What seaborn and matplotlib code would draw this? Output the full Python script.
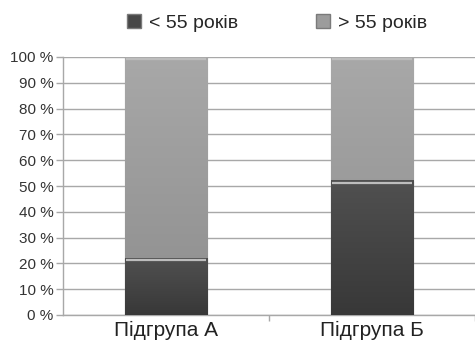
import matplotlib
matplotlib.use("Agg")
import matplotlib.pyplot as plt
import numpy as np
import pandas as pd
import seaborn as sns
from matplotlib.colors import LinearSegmentedColormap
from matplotlib.patches import Patch

groups = ["Підгрупа А", "Підгрупа Б"]
under_55 = [22, 52]
over_55 = [78, 48]
series_labels = ["< 55 років", "> 55 років"]
ytick_values = [0, 10, 20, 30, 40, 50, 60, 70, 80, 90, 100]

sns.set_theme(style="white")
plt.rcParams["font.family"] = ["Liberation Sans", "DejaVu Sans"]

df = pd.DataFrame({"group": groups, "under": under_55, "over": over_55})
df["total"] = df["under"] + df["over"]

fig = plt.figure(figsize=(4.75, 3.49), dpi=100)
ax = fig.add_axes([63 / 475, 1 - 315 / 349, 1 - 63 / 475, (315 - 57) / 349])

dark = "#474747"
light = "#9c9c9c"

sns.barplot(data=df, x="group", y="total", color=light, width=0.4,
            saturation=1, ax=ax, zorder=3)
sns.barplot(data=df, x="group", y="under", color=dark, width=0.4,
            saturation=1, ax=ax, zorder=3)

# soft vertical shading on each segment, plus a thin highlight on its top edge
cmaps = {
    light: LinearSegmentedColormap.from_list("lt", ["#8e8e8e", "#a8a8a8"]),
    dark: LinearSegmentedColormap.from_list("dk", ["#383838", "#505050"]),
}
grad = np.linspace(0, 1, 64).reshape(-1, 1)
for i, p in enumerate(ax.patches):
    x0, y0 = p.get_x(), p.get_y()
    w, h = p.get_width(), p.get_height()
    key = light if i < len(groups) else dark
    ax.imshow(grad, extent=[x0, x0 + w, y0, y0 + h], origin="lower",
              cmap=cmaps[key], aspect="auto", zorder=3.5)
    p.set_edgecolor("#7a7a7a")
    p.set_linewidth(0.8)
    ax.plot([x0 + w * 0.02, x0 + w * 0.98], [y0 + h - 0.7, y0 + h - 0.7],
            color="#bdbdbd", lw=1.6, zorder=4, solid_capstyle="butt")

ax.set_xlim(-0.5, 1.5)
ax.set_ylim(0, 100)
ax.set_yticks(ytick_values)
ax.set_yticklabels([f"{v} %" for v in ytick_values])
ax.set_xticks([0.5, 1.5], minor=True)
ax.set_xlabel("")
ax.set_ylabel("")
ax.yaxis.grid(True, color="#a8a8a8", lw=1.0, zorder=0)
ax.set_axisbelow(True)
ax.tick_params(axis="y", which="major", length=5, width=1.0, color="#a8a8a8",
               labelsize=11, labelcolor="#333333", pad=2, left=True)
ax.tick_params(axis="x", which="major", length=0, labelsize=15,
               labelcolor="#222222", pad=4)
ax.tick_params(axis="x", which="minor", length=4, width=1.0, color="#a8a8a8",
               bottom=True, direction="out")
for s in ["top", "right"]:
    ax.spines[s].set_visible(False)
ax.spines["bottom"].set_color("#a8a8a8")
ax.spines["bottom"].set_linewidth(1.0)
ax.spines["left"].set_color("#a8a8a8")
ax.spines["left"].set_linewidth(1.0)

handles = [Patch(facecolor=dark, edgecolor="#7a7a7a"),
           Patch(facecolor=light, edgecolor="#7a7a7a")]
fig.legend(handles, series_labels, loc="upper center", bbox_to_anchor=(0.583, 1.01),
           ncol=2, frameon=False, fontsize=14, handlelength=0.75, handleheight=0.75,
           columnspacing=4.0, handletextpad=0.4)

fig.savefig("out.png", dpi=100)
